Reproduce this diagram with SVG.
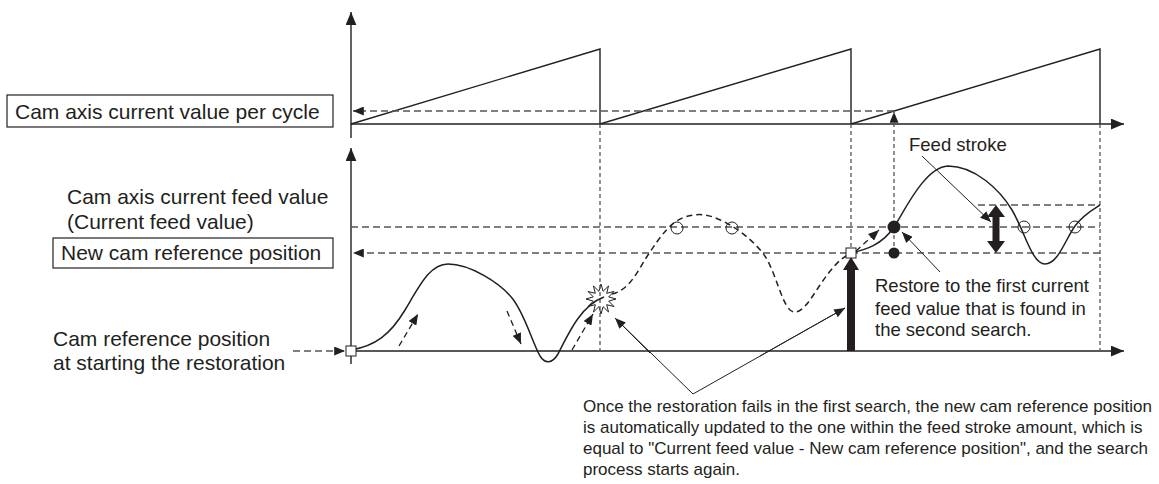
<svg xmlns="http://www.w3.org/2000/svg" width="1159" height="484" viewBox="0 0 1159 484">
<style>
text{font-family:"Liberation Sans",Arial,sans-serif;fill:#231f20}
.big{font-size:21px}
.sm{font-size:18.5px}
.cl{font-size:17px}
.ax{stroke:#231f20;stroke-width:1.4;fill:none}
.cv{stroke:#231f20;stroke-width:1.5;fill:none}
.cvd{stroke:#231f20;stroke-width:1.5;fill:none;stroke-dasharray:6 4}
.hd{stroke:#555;stroke-width:1.3;fill:none;stroke-dasharray:7 4}
.vd{stroke:#555;stroke-width:1.3;fill:none;stroke-dasharray:4 3}
.ld{stroke:#231f20;stroke-width:1;fill:none}
.box{fill:#fff;stroke:#231f20;stroke-width:1.2}
</style>
<defs>
<marker id="ah" viewBox="0 0 12 10" refX="12" refY="5" markerWidth="13" markerHeight="11" markerUnits="userSpaceOnUse" orient="auto"><path d="M0,0 L12,5 L0,10 z" fill="#231f20"/></marker>
<marker id="ahs" viewBox="0 0 12 10" refX="12" refY="5" markerWidth="11" markerHeight="9" markerUnits="userSpaceOnUse" orient="auto"><path d="M0,0 L12,5 L0,10 z" fill="#231f20"/></marker>
</defs>

<g id="starburst">
<polygon points="601,284 603.1,291.3 608.5,286 606.7,293.3 614,291.5 608.7,296.9 616,299 608.7,301.1 614,306.5 606.7,304.7 608.5,312 603.1,306.7 601,314 598.9,306.7 593.5,312 595.3,304.7 588,306.5 593.3,301.1 586,299 593.3,296.9 588,291.5 595.3,293.3 593.5,286 598.9,291.3" fill="#fff" stroke="#231f20" stroke-width="1"/>
</g>

<g id="connectors">
<line class="ax" x1="351" y1="138" x2="351" y2="12" marker-end="url(#ah)"/>
<line class="ax" x1="351" y1="124" x2="1124" y2="124" marker-end="url(#ah)"/>
<line class="ax" x1="351" y1="364" x2="351" y2="148" marker-end="url(#ah)"/>
<line class="ax" x1="351" y1="351" x2="1124" y2="351" marker-end="url(#ah)"/>
<path class="ax" d="M351,124 L600,49 L600,124 L851,49 L851,124 L1100,49 L1100,124"/>
<line class="hd" x1="894" y1="111" x2="353" y2="111" marker-end="url(#ahs)"/>
<line class="hd" x1="351" y1="227" x2="1100" y2="227"/>
<line class="hd" x1="1100" y1="253" x2="353" y2="253" marker-end="url(#ahs)"/>
<line class="hd" x1="978" y1="205" x2="1100" y2="205"/>
<line class="hd" x1="293" y1="351" x2="345" y2="351" marker-end="url(#ahs)"/>
<line class="vd" x1="600" y1="124" x2="600" y2="351"/>
<line class="vd" x1="851" y1="124" x2="851" y2="351"/>
<line class="vd" x1="1100" y1="124" x2="1100" y2="351"/>
<line class="vd" x1="894" y1="253" x2="894" y2="112" marker-end="url(#ahs)"/>
<path class="cv" d="M351,350 C375,346 390,335 405,310 C420,285 430,264 448,264 C470,264 500,283 512,298 C525,314 532,342 540,356 C545,364 552,364 558,354 C570,330 582,305 604,297"/>
<path class="cvd" d="M612,294 C630,290 638,270 648,255 C660,237 670,222 685,217 C697,213 707,214 718,219 C735,226 750,238 762,252 C775,268 780,300 790,310 C800,318 810,300 820,285 C830,270 840,258 851,253"/>
<path class="cv" d="M851,253 C865,250 882,245 894,227 C905,210 925,167 948,166 C975,166 1000,190 1012,210 C1025,232 1032,264 1045,264 C1058,264 1065,240 1075,226 C1083,215 1092,210 1100,205"/>
<line class="cvd" style="stroke-width:1.3" x1="399" y1="346" x2="418" y2="314" marker-end="url(#ahs)"/>
<line class="cvd" style="stroke-width:1.3" x1="507" y1="311" x2="521" y2="344" marker-end="url(#ahs)"/>
<line class="cvd" style="stroke-width:1.3" x1="572" y1="350" x2="593" y2="314" marker-end="url(#ahs)"/>
<line class="cvd" style="stroke-width:1.3" x1="856" y1="251" x2="879" y2="230" marker-end="url(#ahs)"/>
<path d="M847,351 L847,270 L843,270 L851,257 L859,270 L855,270 L855,351 z" fill="#231f20"/>
<path d="M992.5,217 L987,217 L996,205 L1005,217 L999.5,217 L999.5,241 L1005,241 L996,253 L987,241 L992.5,241 z" fill="#231f20"/>
<line class="ld" x1="922" y1="156" x2="991" y2="222" marker-end="url(#ahs)"/>
<line class="ld" x1="940" y1="272" x2="902" y2="232" marker-end="url(#ahs)"/>
<polyline class="ld" points="615,318 693,394 845,308"/>
<line class="ld" x1="650" y1="353" x2="615" y2="318" marker-end="url(#ahs)"/>
<line class="ld" x1="760" y1="356" x2="845" y2="308" marker-end="url(#ahs)"/>
</g>

<g id="markers">
<rect x="346" y="346" width="10" height="10" fill="#fff" stroke="#231f20" stroke-width="1"/>
<rect x="846" y="248" width="10" height="10" fill="#fff" stroke="#231f20" stroke-width="1"/>
<circle cx="677" cy="228" r="6" fill="none" stroke="#231f20" stroke-width="1"/>
<circle cx="732" cy="228" r="6" fill="none" stroke="#231f20" stroke-width="1"/>
<circle cx="1024" cy="227" r="6" fill="none" stroke="#231f20" stroke-width="1"/>
<circle cx="1075" cy="227" r="6" fill="none" stroke="#231f20" stroke-width="1"/>
<circle cx="894" cy="227" r="6.5" fill="#231f20"/>
<circle cx="894" cy="253" r="5.5" fill="#231f20"/>
</g>

<g id="label-cycle">
<rect class="box" x="7" y="95" width="326" height="32"/>
<text class="big" x="15" y="119">Cam axis current value per cycle</text>
</g>
<g id="label-feed">
<text class="big" x="67" y="204">Cam axis current feed value</text>
<text class="big" x="67" y="229">(Current feed value)</text>
</g>
<g id="label-newref">
<rect class="box" x="53" y="238" width="280" height="30"/>
<text class="big" x="61" y="260">New cam reference position</text>
</g>
<g id="label-startref">
<text class="big" x="53" y="346">Cam reference position</text>
<text class="big" x="53" y="370">at starting the restoration</text>
</g>
<g id="label-stroke">
<text class="sm" x="909" y="151">Feed stroke</text>
</g>
<g id="label-restore">
<text class="sm" x="875" y="292">Restore to the first current</text>
<text class="sm" x="875" y="315">feed value that is found in</text>
<text class="sm" x="875" y="336">the second search.</text>
</g>
<g id="label-callout">
<text class="cl" x="583" y="412">Once the restoration fails in the first search, the new cam reference position</text>
<text class="cl" x="583" y="433">is automatically updated to the one within the feed stroke amount, which is</text>
<text class="cl" x="583" y="454">equal to "Current feed value - New cam reference position", and the search</text>
<text class="cl" x="583" y="475">process starts again.</text>
</g>
</svg>
